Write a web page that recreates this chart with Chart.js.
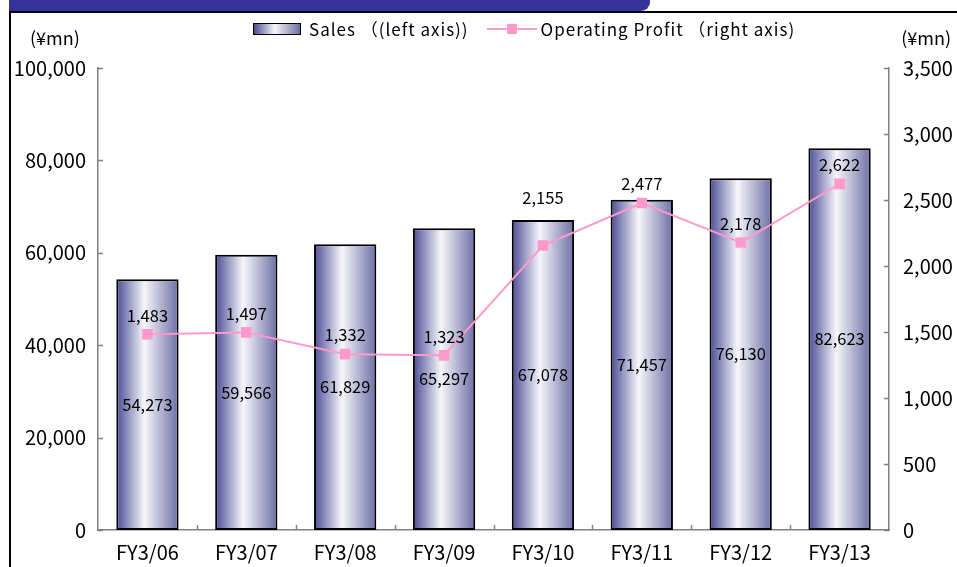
<!DOCTYPE html>
<html>
<head>
<meta charset="utf-8">
<script src="https://cdn.jsdelivr.net/npm/chart.js@4.4.1/dist/chart.umd.min.js"></script>
<style>
  body { margin: 0; background: #fff; font-family: 'Noto Sans CJK JP', sans-serif; }
  #wrap { position: relative; width: 957px; height: 567px; overflow: hidden; }
  #band { position: absolute; left: 9px; top: 0; width: 641px; height: 11px; background: #333399; border-bottom-right-radius: 9px; }
  #frame { position: absolute; left: 9px; top: 11px; width: 960px; height: 600px; border-left: 2px solid #000; border-top: 2px solid #000; }
  #myChart { position: absolute; left: 0; top: 0; }
  #legend { position: absolute; top: 16px; left: 253px; display: flex; align-items: center; font-size: 17px; letter-spacing: 1px; color: #000; white-space: pre; }
  #legend .item { display: flex; align-items: center; }
  #legend .swatch { width: 46px; height: 10px; border: 1px solid #000; margin-right: 8px;
    background: linear-gradient(to right, #4b4b96 0%, #f6f6fa 45%, #6e6ea6 100%); }
  #legend .lineSw { position: relative; width: 50px; height: 12px; margin-left: 18px; margin-right: 4px; }
  #legend .lineSw:before { content: ''; position: absolute; left: 0; right: 0; top: 5px; height: 2px; background: #ff99cc; }
  #legend .lineSw:after { content: ''; position: absolute; left: 20px; top: 1px; width: 10px; height: 10px; background: #ff99cc; }
</style>
</head>
<body>
<div id="wrap">
  <div id="band"></div>
  <div id="frame"></div>
  <canvas id="myChart" width="957" height="567"></canvas>
  <div id="legend"></div>
</div>
<script>
var labels = ['FY3/06', 'FY3/07', 'FY3/08', 'FY3/09', 'FY3/10', 'FY3/11', 'FY3/12', 'FY3/13'];
var sales = [54273, 59566, 61829, 65297, 67078, 71457, 76130, 82623];
var profit = [1483, 1497, 1332, 1323, 2155, 2477, 2178, 2622];
var salesLabel = 'Sales （(left axis))';
var profitLabel = 'Operating Profit （right axis)';

var font = "'Noto Sans CJK JP', sans-serif";
var fmt = function (v) { return Number(v).toLocaleString('en-US'); };
var barPct = 0.63;

// horizontal cylinder-like gradient, one per bar
function barFill(c) {
    var ch = c.chart;
    var a = ch.chartArea;
    if (!a || !ch.scales.x) return '#9999cc';
    var x = ch.scales.x.getPixelForValue(c.dataIndex);
    var w = (a.right - a.left) / labels.length * barPct;
    var g = ch.ctx.createLinearGradient(x - w / 2, 0, x + w / 2, 0);
    g.addColorStop(0, '#4b4b96');
    g.addColorStop(0.45, '#f6f6fa');
    g.addColorStop(1, '#6e6ea6');
    return g;
}

// short tick marks inside the plot + unit labels + value labels
var extras = {
    id: 'extras',
    afterDraw: function (chart) {
        var ctx = chart.ctx;
        var a = chart.chartArea;
        var yl = chart.scales.y, yr = chart.scales.y1;
        ctx.save();
        ctx.strokeStyle = '#808080';
        ctx.lineWidth = 1.5;
        ctx.beginPath();
        yl.ticks.forEach(function (t) {
            var p = Math.round(yl.getPixelForValue(t.value)) + 0.5;
            ctx.moveTo(a.left, p); ctx.lineTo(a.left + 5, p);
        });
        yr.ticks.forEach(function (t) {
            var p = Math.round(yr.getPixelForValue(t.value)) + 0.5;
            ctx.moveTo(a.right - 5, p); ctx.lineTo(a.right, p);
        });
        var step = (a.right - a.left) / labels.length;
        for (var k = 1; k < labels.length; k++) {
            var px = Math.round(a.left + step * k) + 0.5;
            ctx.moveTo(px, a.bottom); ctx.lineTo(px, a.bottom - 5);
        }
        ctx.stroke();

        ctx.fillStyle = '#000';
        ctx.font = '18px ' + font;
        ctx.textBaseline = 'middle';
        ctx.textAlign = 'left';
        ctx.fillText('(¥mn)', 30, 38);
        ctx.textAlign = 'right';
        ctx.fillText('(¥mn)', 951, 38);

        ctx.font = '16.5px ' + font;
        ctx.textAlign = 'center';
        var bars = chart.getDatasetMeta(1).data;
        var pts = chart.getDatasetMeta(0).data;
        bars.forEach(function (b, i) {
            ctx.fillText(fmt(sales[i]), b.x, (b.y + b.base) / 2);
        });
        pts.forEach(function (p, i) {
            var ty = p.y - 19;
            var top = bars[i].y;
            if (ty - 8 < top && ty + 8 > top) ty = top - 22;
            ctx.fillText(fmt(profit[i]), p.x, ty);
        });
        ctx.restore();
    }
};

var ctxBar = document.getElementById('myChart').getContext('2d');
var myChart = new Chart(ctxBar, {
    type: 'bar',
    data: {
        labels: labels,
        datasets: [{
            type: 'line',
            label: profitLabel,
            data: profit,
            yAxisID: 'y1',
            borderColor: '#ff99cc',
            backgroundColor: '#ff99cc',
            borderWidth: 2,
            pointStyle: 'rect',
            pointRadius: 7.5,
            pointBorderWidth: 0,
            tension: 0,
            order: 0
        }, {
            label: salesLabel,
            data: sales,
            yAxisID: 'y',
            backgroundColor: barFill,
            borderColor: '#000',
            borderWidth: 2,
            borderSkipped: false,
            barPercentage: barPct,
            categoryPercentage: 1.0,
            order: 1
        }]
    },
    options: {
        responsive: false,
        animation: false,
        layout: { padding: { left: 10, right: 0, top: 68, bottom: 0 } },
        scales: {
            x: {
                grid: { display: false, drawTicks: false },
                border: { color: '#808080', width: 1.5 },
                ticks: { color: '#000', font: { family: font, size: 20 }, padding: 10, maxRotation: 0 },
                afterFit: function (s) { s.height = 37; }
            },
            y: {
                position: 'left',
                min: 0, max: 100000,
                grid: { display: false, drawTicks: false },
                border: { color: '#808080', width: 1.5 },
                ticks: { stepSize: 20000, color: '#000', font: { family: font, size: 20 }, padding: 12, callback: fmt },
                afterFit: function (s) { s.width = 88; }
            },
            y1: {
                position: 'right',
                min: 0, max: 3500,
                grid: { display: false, drawTicks: false },
                border: { color: '#808080', width: 1.5 },
                ticks: { stepSize: 500, color: '#000', font: { family: font, size: 20 }, padding: 14, callback: fmt },
                afterFit: function (s) { s.width = 68; }
            }
        },
        plugins: {
            legend: { display: false },
            tooltip: { enabled: false }
        }
    },
    plugins: [extras]
});

// html legend built from the datasets
var legendEl = document.getElementById('legend');
[1, 0].forEach(function (di) {
    var ds = myChart.data.datasets[di];
    var item = document.createElement('div');
    item.className = 'item';
    var sw = document.createElement('span');
    sw.className = ds.type === 'line' ? 'lineSw' : 'swatch';
    var tx = document.createElement('span');
    tx.textContent = ds.label;
    item.appendChild(sw);
    item.appendChild(tx);
    legendEl.appendChild(item);
});
</script>
</body>
</html>
